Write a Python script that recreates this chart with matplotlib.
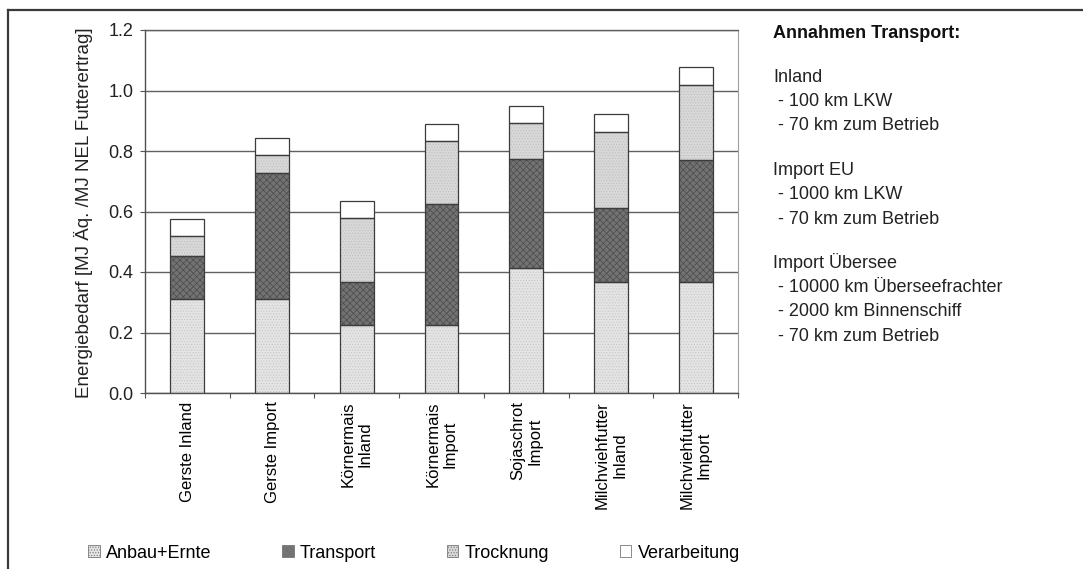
import matplotlib
matplotlib.use("Agg")
import matplotlib.pyplot as plt
from matplotlib.patches import Patch
from matplotlib.lines import Line2D
from matplotlib.ticker import FixedLocator, FormatStrFormatter
import numpy as np

plt.rcParams['font.family'] = ['Liberation Sans', 'DejaVu Sans']
plt.rcParams['hatch.linewidth'] = 0.5

# Energy demand per category, stacked by process step
categories = ["Gerste Inland", "Gerste Import", "Körnermais\nInland", "Körnermais\nImport",
              "Sojaschrot\nImport", "Milchviehfutter\nInland", "Milchviehfutter\nImport"]
anbau_ernte  = [0.311, 0.311, 0.225, 0.225, 0.412, 0.368, 0.368]
transport    = [0.143, 0.415, 0.143, 0.399, 0.362, 0.245, 0.402]
trocknung    = [0.065, 0.061, 0.210, 0.210, 0.120, 0.249, 0.248]
verarbeitung = [0.056, 0.057, 0.058, 0.056, 0.056, 0.059, 0.061]

series_names = ["Anbau+Ernte", "Transport", "Trocknung", "Verarbeitung"]
series_vals = [anbau_ernte, transport, trocknung, verarbeitung]
y_ticks = [0.0, 0.2, 0.4, 0.6, 0.8, 1.0, 1.2]

notes_title = "Annahmen Transport:"
notes_groups = [
    ("Inland", [" - 100 km LKW", " - 70 km zum Betrieb"]),
    ("Import EU", [" - 1000 km LKW", " - 70 km zum Betrieb"]),
    ("Import Übersee", [" - 10000 km Überseefrachter", " - 2000 km Binnenschiff",
                        " - 70 km zum Betrieb"]),
]

# fill colour, hatch colour, hatch pattern
styles = [
    ("#e4e4e4", "#c6c6c6", "......"),
    ("#727272", "#4c4c4c", "xxxxx"),
    ("#d8d8d8", "#c0c0c0", "......"),
    ("#ffffff", "#ffffff", None),
]
edge = "#3c3c3c"

W, H = 1083, 569
fig = plt.figure(figsize=(W / 100, H / 100), dpi=100)
ax = fig.add_axes([145 / W, 1 - 393 / H, (738 - 145) / W, (393 - 30) / H])

x = np.arange(len(categories))
bw = 0.40
bottom = np.zeros(len(categories))
for vals, (fc, hc, hatch) in zip(series_vals, styles):
    vals = np.asarray(vals)
    ax.bar(x, vals, bw, bottom=bottom, color=fc, edgecolor=hc, hatch=hatch,
           linewidth=0, zorder=2)
    ax.bar(x, vals, bw, bottom=bottom, fill=False, edgecolor=edge,
           linewidth=0.9, zorder=3)
    bottom += vals

ax.set_xlim(-0.5, len(categories) - 0.5)
ax.set_ylim(0, 1.2)
ax.yaxis.set_major_locator(FixedLocator(y_ticks))
ax.yaxis.set_major_formatter(FormatStrFormatter('%.1f'))
ax.yaxis.grid(True, color="#606060", linewidth=1.0, zorder=1)
ax.set_axisbelow(True)

ax.set_xticks(x)
ax.set_xticklabels(categories, rotation=90, ha='center', va='top',
                   multialignment='center', fontsize=12)
ax.tick_params(axis='x', which='major', length=0, pad=6)
ax.set_xticks(np.arange(-0.5, len(categories), 1.0), minor=True)
ax.tick_params(axis='x', which='minor', length=3.5, width=0.8, color="#555555",
               direction='out')
ax.tick_params(axis='y', length=3.5, width=0.8, color="#555555", pad=5,
               labelsize=13, labelcolor="#222222")

for side in ('left', 'bottom'):
    ax.spines[side].set_color("#505050")
    ax.spines[side].set_linewidth(1.0)
ax.spines['top'].set_color("#606060")
ax.spines['top'].set_linewidth(1.0)
ax.spines['right'].set_color("#a0a0a0")
ax.spines['right'].set_linewidth(0.8)

fig.text(84 / W, 1 - 213 / H, "Energiebedarf [MJ Äq. /MJ NEL Futterertrag]",
         rotation=90, ha='center', va='center', fontsize=13.5, color="#222222")

# Legend below the chart
handles = []
for fc, hc, hatch in styles:
    handles.append(Patch(facecolor=fc, edgecolor="#777777", hatch=hatch, linewidth=0.6))
fig.legend(handles, series_names, ncol=4, loc='center left',
           bbox_to_anchor=(88 / W, 1 - 553 / H), frameon=False, fontsize=13,
           handlelength=0.65, handleheight=0.65, handletextpad=0.35,
           columnspacing=3.9, borderpad=0, borderaxespad=0)

# Transport assumptions at the right
tx = 773 / W
fig.text(tx, 1 - 34 / H, notes_title, fontsize=13, fontweight='bold',
         ha='left', va='center', color="#111111")
yy = 77
for head, lines in notes_groups:
    fig.text(tx, 1 - yy / H, head, fontsize=13, ha='left', va='center', color="#222222")
    for ln in lines:
        yy += 24.5
        fig.text(tx, 1 - yy / H, ln, fontsize=13, ha='left', va='center', color="#222222")
    yy += 44

# Outer frame (top and left borders)
fig.add_artist(Line2D([8 / W, 1.0], [1 - 10 / H, 1 - 10 / H], color="#3a3a3a",
                      linewidth=1.6, transform=fig.transFigure))
fig.add_artist(Line2D([8 / W, 8 / W], [1 - 10 / H, 0.0], color="#3a3a3a",
                      linewidth=1.6, transform=fig.transFigure))

fig.savefig("out.png", dpi=100)
